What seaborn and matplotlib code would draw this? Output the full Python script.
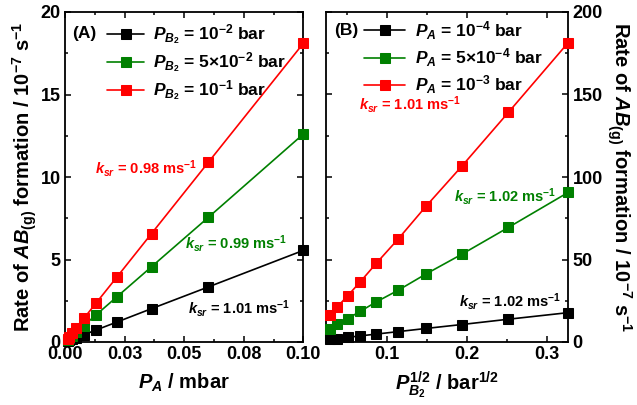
import numpy as np
import pandas as pd
import matplotlib
matplotlib.use("Agg")
import matplotlib.pyplot as plt
from matplotlib.ticker import MultipleLocator, FixedLocator, FixedFormatter
import seaborn as sns

# ---------------- data ----------------
pa_mbar = [0.00105, 0.00174, 0.0029, 0.0048, 0.0079, 0.0131, 0.0218, 0.0363, 0.0602, 0.1]
rate_a_pb2_1e2 = [0.06, 0.10, 0.16, 0.27, 0.44, 0.73, 1.21, 2.02, 3.34, 5.55]
rate_a_pb2_5e2 = [0.13, 0.22, 0.37, 0.60, 1.00, 1.65, 2.74, 4.56, 7.56, 12.6]
rate_a_pb2_1e1 = [0.19, 0.31, 0.52, 0.87, 1.43, 2.37, 3.94, 6.57, 10.9, 18.1]

sqrt_pb2 = [0.029, 0.038, 0.051, 0.067, 0.087, 0.1145, 0.149, 0.194, 0.252, 0.327]
rate_b_pa_1e4 = [1.6, 2.1, 2.8, 3.7, 4.8, 6.3, 8.2, 10.6, 13.8, 17.8]
rate_b_pa_5e4 = [8.0, 10.7, 14.1, 18.6, 24.3, 31.4, 41.2, 53.2, 69.4, 90.7]
rate_b_pa_1e3 = [16.2, 21.2, 27.9, 36.5, 47.7, 62.5, 82.2, 106.6, 139.1, 181.5]

labels_a = [r"$P_{B_2}$ = 10$^{-2}$ bar", r"$P_{B_2}$ = 5×10$^{-2}$ bar", r"$P_{B_2}$ = 10$^{-1}$ bar"]
labels_b = [r"$P_A$ = 10$^{-4}$ bar", r"$P_A$ = 5×10$^{-4}$ bar", r"$P_A$ = 10$^{-3}$ bar"]
ksr_a = [r"$k_{sr}$ = 1.01 ms$^{-1}$", r"$k_{sr}$ = 0.99 ms$^{-1}$", r"$k_{sr}$ = 0.98 ms$^{-1}$"]
ksr_b = [r"$k_{sr}$ = 1.02 ms$^{-1}$", r"$k_{sr}$ = 1.02 ms$^{-1}$", r"$k_{sr}$ = 1.01 ms$^{-1}$"]
xticks_a = [0.0, 0.025, 0.05, 0.075, 0.1]
xticklabels_a = ["0.00", "0.03", "0.05", "0.08", "0.10"]
colors = ["#000000", "#008000", "#ff0000"]

# ---------------- style ----------------
sns.set_theme(style="ticks")
plt.rcParams["font.family"] = ["Liberation Sans", "DejaVu Sans"]
plt.rcParams["font.weight"] = "bold"
plt.rcParams["mathtext.fontset"] = "custom"
plt.rcParams["mathtext.rm"] = "Liberation Sans:bold"
plt.rcParams["mathtext.bf"] = "Liberation Sans:bold"
plt.rcParams["mathtext.it"] = "Liberation Sans:italic:bold"
plt.rcParams["mathtext.default"] = "it"
plt.rcParams["axes.linewidth"] = 1.3
for k in ["text.color", "axes.labelcolor", "xtick.color", "ytick.color", "axes.edgecolor"]:
    plt.rcParams[k] = "black"

W, H = 637, 405
fig = plt.figure(figsize=(W / 100, H / 100), dpi=100)
top_px, bot_px = 12, 342
axA = fig.add_axes([65 / W, (H - bot_px) / H, (303.3 - 65) / W, (bot_px - top_px) / H])
axB = fig.add_axes([325.5 / W, (H - bot_px) / H, (568.3 - 325.5) / W, (bot_px - top_px) / H])

def draw(ax, x, ys, labels):
    for y, c, lab in zip(ys, colors, labels):
        df = pd.DataFrame({"x": x, "y": y})
        sns.lineplot(data=df, x="x", y="y", ax=ax, color=c, marker="s", markersize=6.8,
                     markeredgecolor=c, linewidth=1.2, label=lab, clip_on=False, zorder=3)

draw(axA, pa_mbar, [rate_a_pb2_1e2, rate_a_pb2_5e2, rate_a_pb2_1e1], labels_a)
draw(axB, sqrt_pb2, [rate_b_pa_1e4, rate_b_pa_5e4, rate_b_pa_1e3], labels_b)

for ax in (axA, axB):
    ax.tick_params(which="both", direction="in", top=True, right=True, left=True, bottom=True,
                   width=1.1, labelsize=13, pad=3)
    ax.tick_params(which="major", length=4.5)
    ax.tick_params(which="minor", length=2.5)

# panel A axes
axA.set_xlim(0, 0.1)
axA.set_ylim(0, 20)
axA.xaxis.set_major_locator(FixedLocator(xticks_a))
axA.xaxis.set_major_formatter(FixedFormatter(xticklabels_a))
axA.xaxis.set_minor_locator(MultipleLocator(0.0125))
axA.yaxis.set_major_locator(MultipleLocator(5))
axA.yaxis.set_minor_locator(MultipleLocator(2.5))
axA.set_xlabel(r"$P_A$ / mbar", fontsize=14.5, fontweight="bold", labelpad=6)
axA.set_ylabel(r"Rate of $AB_{\rm (g)}$ formation / 10$^{-7}$ s$^{-1}$", fontsize=14.5,
               fontweight="bold", labelpad=1)

# panel B axes
axB.set_xlim(0.0235, 0.327)
axB.set_ylim(0, 200)
axB.xaxis.set_major_locator(MultipleLocator(0.1))
axB.xaxis.set_minor_locator(MultipleLocator(0.05))
axB.yaxis.set_major_locator(MultipleLocator(50))
axB.yaxis.set_minor_locator(MultipleLocator(25))
axB.yaxis.tick_right()
axB.tick_params(which="both", left=True, right=True, labelleft=False, labelright=True)
axB.yaxis.set_label_position("right")
axB.set_xlabel(r"$P_{B_2}^{1/2}$ / bar$^{1/2}$", fontsize=14.5, fontweight="bold", labelpad=5)
axB.set_ylabel(r"Rate of $AB_{\rm (g)}$ formation / 10$^{-7}$ s$^{-1}$", fontsize=14.5,
               fontweight="bold", rotation=-90, labelpad=22)

for ax in (axA, axB):
    for lab in ax.get_xticklabels() + ax.get_yticklabels():
        lab.set_fontweight("bold")

# legends
legA = axA.legend(loc="upper left", bbox_to_anchor=(0.178, 0.968), frameon=False, fontsize=12.5,
                  handlelength=2.1, handletextpad=0.5, labelspacing=0.2, borderaxespad=0,
                  borderpad=0)
legB = axB.legend(loc="upper left", bbox_to_anchor=(0.16, 0.978), frameon=False, fontsize=12.5,
                  handlelength=2.35, handletextpad=0.55, labelspacing=0.26, borderaxespad=0,
                  borderpad=0)
for leg in (legA, legB):
    for t in leg.get_texts():
        t.set_fontweight("bold")

axA.text(0.03, 0.936, "(A)", transform=axA.transAxes, fontsize=12.5, fontweight="bold",
         ha="left", va="center")
axB.text(0.035, 0.945, "(B)", transform=axB.transAxes, fontsize=12.5, fontweight="bold",
         ha="left", va="center")

# k_sr annotations (axes-fraction positions)
for txt, c, (xx, yy) in zip(ksr_a, colors, [(0.945, 0.103), (0.933, 0.30), (0.126, 0.527)]):
    axA.text(xx, yy, txt, transform=axA.transAxes, color=c, fontsize=10.5, fontweight="bold",
             ha="right" if xx > 0.5 else "left", va="center")
for txt, c, (xx, yy) in zip(ksr_b, colors, [(0.972, 0.122), (0.951, 0.442), (0.139, 0.72)]):
    axB.text(xx, yy, txt, transform=axB.transAxes, color=c, fontsize=10.5, fontweight="bold",
             ha="right" if xx > 0.5 else "left", va="center")

fig.savefig("out.png", dpi=100)
